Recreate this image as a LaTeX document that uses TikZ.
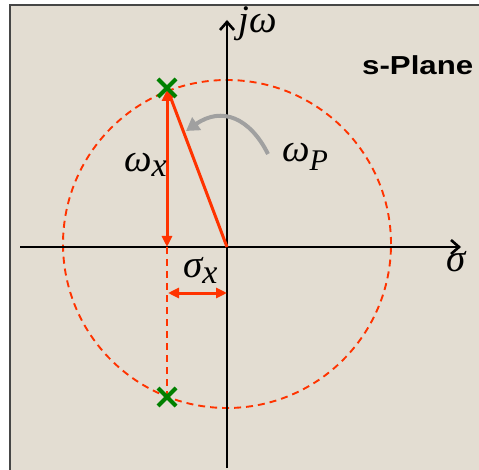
\documentclass[tikz,border=0pt]{standalone}
\usepackage{fontspec}
\setmainfont{Liberation Serif}
\newfontfamily\arialbold{Liberation Sans}
\usetikzlibrary{arrows.meta,calc}
\definecolor{bg}{RGB}{227,221,210}
\definecolor{redv}{RGB}{255,51,0}
\definecolor{greenx}{RGB}{0,128,0}
\definecolor{grayarr}{RGB}{160,160,160}
\definecolor{frame}{RGB}{70,70,70}
\tikzset{
  axis/.style={line width=2.8pt, black, -{Straight Barb[length=8pt,width=14pt,line width=2.6pt]}},
  redarrow/.style={line width=3pt, redv},
  reddash/.style={line width=1.9pt, redv, dash pattern=on 7pt off 5pt},
  pole/.style={line width=4pt, greenx},
  greek/.style={inner sep=0pt, font=\fontsize{39}{42}\selectfont\itshape},
  redtip/.tip={Triangle[length=11pt,width=10pt]}
}
\newcommand{\polemark}[1]{%
  \draw[pole] ($(#1)+(-9,-9)$) -- ($(#1)+(9,9)$);
  \draw[pole] ($(#1)+(-9,9)$) -- ($(#1)+(9,-9)$);}
\begin{document}
\begin{tikzpicture}[x=1pt,y=-1pt]
\useasboundingbox (0,0) rectangle (479,470);
\fill[white] (0,0) rectangle (479,470);
\fill[bg] (10,5) rectangle (479,470);
\draw[line width=2.2pt, frame] (10,470) -- (10,5) -- (479,5);

% key points
\coordinate (O) at (227,247);
\coordinate (C) at (227,244);
\coordinate (P1) at (167,88);
\coordinate (P2) at (167,397);
\coordinate (F) at (167,247);
\coordinate (hl) at (20,247);
\coordinate (hr) at (461,247);
\coordinate (vb) at (227,468);
\coordinate (vt) at (227,20);
\coordinate (sl) at (168,293);
\coordinate (sr) at (227,293);
\coordinate (gs) at (268,154);
\coordinate (ge) at (186,131);

% circle
\draw[reddash] (C) circle[radius=164pt];

% axes
\draw[axis] (hl) -- (hr);
\draw[axis] (vb) -- (vt);

% red vectors
\draw[reddash] (F) -- (P2);
\draw[redarrow, -{redtip}] (O) -- (P1);
\draw[redarrow, {redtip}-{redtip}] ($(P1)+(0,2)$) -- (F);
\draw[redarrow, {redtip}-{redtip}] (sl) -- (sr);

% gray arrow
\draw[line width=4pt, grayarr, -{Triangle[length=13pt,width=15pt]}] (gs) .. controls (250,118) and (222,106) .. (ge);

% poles
\polemark{P1}
\polemark{P2}

% labels
\node[greek, anchor=base west] (jw) at (238,33) {jω};
\node[greek, anchor=base west] (sig) at (446,272) {σ};
\node[greek, anchor=base west] (wx) at (124,172) {ω\raisebox{-5pt}{\fontsize{34}{36}\selectfont x}};
\node[greek, anchor=base west] (sx) at (183,277) {σ\raisebox{-6pt}{\fontsize{34}{36}\selectfont x}};
\node[greek, anchor=base west] (wp) at (282,162) {ω\raisebox{-9pt}{\fontsize{30}{32}\selectfont P}};
\node[inner sep=0pt, anchor=base west, xscale=1.2, font=\fontsize{26}{28}\selectfont\arialbold\bfseries] (sp) at (362,75) {s-Plane};
\end{tikzpicture}
\end{document}
